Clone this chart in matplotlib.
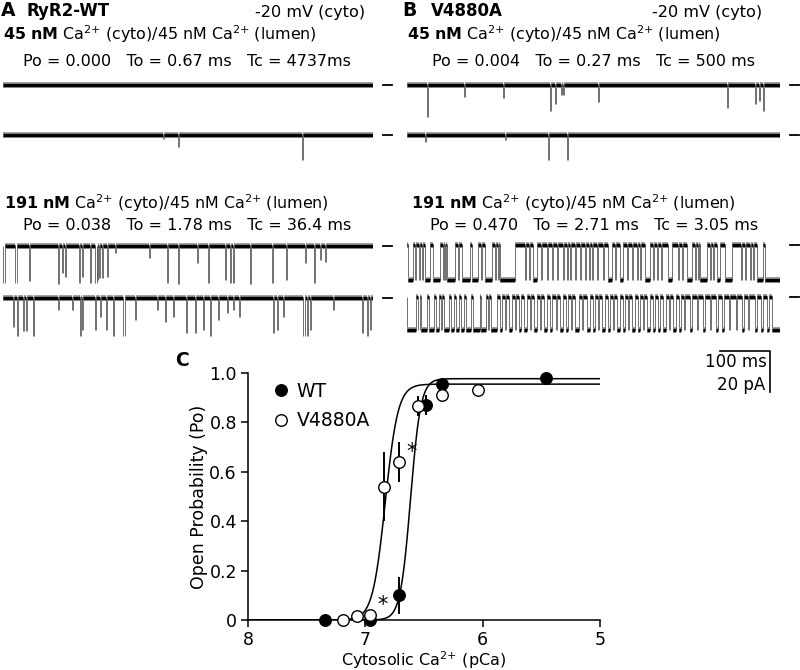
import numpy as np
import matplotlib
matplotlib.use("Agg")
import matplotlib.pyplot as plt

plt.rcParams['font.family'] = ['DejaVu Sans']
plt.rcParams['mathtext.default'] = 'regular'

# ---- single channel recordings: brief openings as (start ms, duration ms, amplitude pA)
wt_45_1 = []
wt_45_2 = [(320, 1, 1.8), (350, 1, 6.2), (598, 1, 12.3)]
v_45_1 = [(40, 1, 15.8), (114, 1, 6.2), (192, 1, 6.5), (286, 1, 13), (296, 1, 9.6),
          (308, 1, 5.2), (312, 1, 5.2), (382, 1, 8.7), (640, 1, 11.4), (696, 1, 9.6),
          (704, 1, 7.8), (712, 1, 13)]
v_45_2 = [(36, 1, 3.5), (196, 1, 2.6), (282, 1, 12.3), (320, 1, 12.3)]

wt_191_1 = [(0, 3, 18.5), (24, 3, 18.5), (52, 1, 17.5), (110, 2, 19), (118, 1, 13.7),
            (124, 1, 15.3), (152, 2, 18.5), (158, 1, 15.3), (174, 2, 18.5), (184, 3, 18.5),
            (188, 1, 17), (192, 1, 16), (198, 1, 16), (208, 1, 15.3), (224, 1, 3.5),
            (292, 1, 6.2), (328, 1, 18.5), (350, 2, 19), (388, 1, 8.7), (410, 1, 18.5),
            (444, 2, 17), (454, 2, 18.5), (460, 1, 18.5), (494, 2, 19), (538, 1, 18.5),
            (566, 1, 17), (604, 1, 8.7), (622, 1, 18.5), (634, 1, 7), (644, 1, 7.8)]
wt_191_2 = [(20, 1, 14.3), (28, 2, 19.2), (40, 1, 16.6), (46, 1, 16.6), (60, 2, 19.2),
            (110, 1, 6.2), (138, 1, 6.2), (154, 2, 19.2), (158, 1, 15.8), (184, 1, 15.8),
            (194, 1, 9.6), (206, 1, 15.8), (220, 1, 19.2), (240, 3, 19.2), (264, 1, 11),
            (308, 1, 6.2), (324, 1, 11.8), (340, 1, 9.4), (366, 1, 17.5), (384, 1, 17.5),
            (400, 1, 15.8), (414, 1, 19.2), (430, 1, 11), (448, 1, 7.7), (460, 1, 6.2),
            (472, 1, 9.4), (540, 1, 17.5), (548, 1, 15.8), (560, 1, 9.4), (600, 3, 19.2),
            (608, 2, 19.2), (614, 1, 15.8), (660, 1, 6.2), (718, 1, 17.5), (728, 2, 19.2),
            (734, 1, 15.8)]

# V4880A at 191 nM: open intervals (start ms, end ms) at unitary amplitude
v_191_1_open = [(2, 12), (16, 18), (24, 26), (30, 32), (36, 46), (52, 66), (72, 74), (76, 78),
                (80, 96), (102, 104), (110, 126), (130, 142), (148, 150), (156, 170),
                (176, 178), (182, 184), (186, 216), (236, 238), (244, 246), (252, 260),
                (268, 270), (280, 282), (290, 292), (300, 302), (312, 314), (320, 322),
                (326, 328), (336, 338), (346, 348), (356, 358), (364, 366), (370, 372),
                (380, 382), (392, 394), (402, 410), (416, 418), (426, 432), (440, 442),
                (450, 452), (460, 462), (466, 468), (476, 486), (492, 494), (500, 502),
                (508, 510), (522, 530), (542, 544), (550, 552), (560, 570), (576, 578),
                (582, 584), (586, 600), (606, 608), (612, 614), (620, 626), (636, 650),
                (668, 670), (676, 678), (686, 688), (692, 694), (700, 712), (716, 746)]
v_191_2_open = [(0, 18), (22, 25), (28, 40), (44, 54), (58, 64), (68, 70), (74, 84), (88, 94),
                (98, 104), (108, 114), (118, 128), (132, 146), (148, 158), (162, 164),
                (168, 180), (186, 190), (196, 198), (204, 210), (216, 218), (224, 228),
                (234, 240), (246, 248), (254, 260), (266, 268), (274, 280), (286, 290),
                (298, 300), (306, 312), (318, 322), (328, 330), (336, 344), (350, 352),
                (360, 366), (372, 376), (382, 384), (390, 396), (402, 406), (412, 414),
                (420, 426), (432, 436), (442, 444), (450, 456), (462, 466), (472, 474),
                (480, 486), (492, 496), (502, 506), (512, 518), (524, 526), (532, 538),
                (544, 548), (554, 556), (566, 570), (580, 582), (592, 596), (606, 608),
                (618, 622), (630, 634), (644, 646), (658, 660), (670, 674), (682, 684),
                (696, 700), (708, 712), (720, 724), (730, 746)]
v_191_1_amp = 17.5
v_191_2_amp = 16.5

# ---- Po vs cytosolic Ca2+ (panel C)
wt_pca = [7.34, 6.96, 6.715, 6.48, 6.35, 5.46]
wt_po = [0.0, 0.0, 0.10, 0.87, 0.955, 0.98]
wt_err = [0.0, 0.0, 0.075, 0.04, 0.0, 0.0]
v_pca = [7.19, 7.075, 6.96, 6.84, 6.71, 6.55, 6.35, 6.04]
v_po = [0.0, 0.015, 0.02, 0.54, 0.64, 0.865, 0.91, 0.93]
v_err = [0.0, 0.0, 0.0, 0.14, 0.08, 0.04, 0.0, 0.0]
v_star = [6.96, 6.71]
# Hill fit parameters (top, pEC50, Hill coefficient)
wt_fit = (0.977, 6.615, 10.0)
v_fit = (0.955, 6.83, 8.0)

W, H = 800, 670
PX_PER_PA = 2.0
fig = plt.figure(figsize=(8, 6.7), dpi=100)


def box(x0, y0, x1, y1):
    return [x0 / W, 1 - y1 / H, (x1 - x0) / W, (y1 - y0) / H]


def draw_trace(ax, events, t_end):
    t = 0.0
    fx0, fx1, fy = [], [], []
    ex, elo = [], []
    for start, dur, amp in sorted(events):
        if start > t:
            fx0.append(t); fx1.append(start); fy.append(0)
        ex += [start, start + dur]
        elo += [-amp, -amp]
        if dur >= 4:
            fx0.append(start); fx1.append(start + dur); fy.append(-amp)
        t = start + dur
    if t < t_end:
        fx0.append(t); fx1.append(t_end); fy.append(0)
    if ex:
        ax.vlines(ex, elo, 0, color='0.35', lw=0.6)
    # fuzzy noise band under the dark core
    ax.hlines(fy, fx0, fx1, color='0.6', lw=4.2)
    ax.hlines(fy, fx0, fx1, color='black', lw=2.4)


def trace_axes(x0, x1, base_y, t_end, events):
    ax = fig.add_axes(box(x0, base_y - 8, x1, base_y + 44))
    ax.set_xlim(0, t_end)
    ax.set_ylim(-44 / PX_PER_PA, 8 / PX_PER_PA)
    ax.axis('off')
    draw_trace(ax, events, t_end)
    ax.plot([t_end + 20, t_end + 38], [0, 0], color='black', lw=1.3, clip_on=False)
    return ax


T_A, T_B = 740, 746
trace_axes(3, 373, 85, T_A, wt_45_1)
trace_axes(3, 373, 135, T_A, wt_45_2)
trace_axes(407, 780, 85, T_B, v_45_1)
trace_axes(407, 780, 135, T_B, v_45_2)
trace_axes(3, 373, 246, T_A, wt_191_1)
trace_axes(3, 373, 298, T_A, wt_191_2)
trace_axes(407, 780, 245, T_B, [(s, e - s, v_191_1_amp) for s, e in v_191_1_open])
ax_b4 = trace_axes(407, 780, 297, T_B, [(s, e - s, v_191_2_amp) for s, e in v_191_2_open])

# scale bar (100 ms, 20 pA)
ax_b4.plot([626, 726, 726], [-27, -27, -47.5], color='black', lw=1.2, clip_on=False)
ax_b4.text(720, -32.5, '100 ms', ha='right', va='center', fontsize=12)
ax_b4.text(716, -44, '20 pA', ha='right', va='center', fontsize=12)


def ftext(x, y, s, **kw):
    fig.text(x / W, 1 - y / H, s, va='center', **kw)


CA_A = r'$\mathbf{45\ nM}$ Ca$^{2{+}}$ (cyto)/45 nM Ca$^{2{+}}$ (lumen)'
CA_B = r'$\mathbf{191\ nM}$ Ca$^{2{+}}$ (cyto)/45 nM Ca$^{2{+}}$ (lumen)'
ftext(1, 11, 'A', fontsize=13.5, fontweight='bold')
ftext(27, 11, 'RyR2-WT', fontsize=12, fontweight='bold')
ftext(402, 11, 'B', fontsize=13.5, fontweight='bold')
ftext(431, 11, 'V4880A', fontsize=12, fontweight='bold')
ftext(255, 12, '-20 mV (cyto)', fontsize=11.6)
ftext(652, 12, '-20 mV (cyto)', fontsize=11.6)
ftext(3, 34, CA_A, fontsize=11.4)
ftext(407, 34, CA_A, fontsize=11.4)
ftext(23, 62, 'Po = 0.000   To = 0.67 ms   Tc = 4737ms', fontsize=11.5)
ftext(432, 62, 'Po = 0.004   To = 0.27 ms   Tc = 500 ms', fontsize=11.5)
ftext(4, 203, CA_B, fontsize=11.4)
ftext(411, 203, CA_B, fontsize=11.4)
ftext(23, 226, 'Po = 0.038   To = 1.78 ms   Tc = 36.4 ms', fontsize=11.5)
ftext(430, 226, 'Po = 0.470   To = 2.71 ms   Tc = 3.05 ms', fontsize=11.5)
ftext(175, 360, 'C', fontsize=13.5, fontweight='bold')

# ---- panel C
axc = fig.add_axes(box(248, 373, 600, 620))
pca_grid = np.linspace(8, 5, 600)


def hill(p, top, pec50, n):
    return top / (1 + 10 ** (n * (p - pec50)))


axc.plot(pca_grid, hill(pca_grid, *wt_fit), color='black', lw=1.1)
axc.plot(pca_grid, hill(pca_grid, *v_fit), color='black', lw=1.1)
axc.errorbar(wt_pca, wt_po, yerr=wt_err, fmt='none', ecolor='black', elinewidth=1.4,
             capsize=0, zorder=3)
axc.errorbar(v_pca, v_po, yerr=v_err, fmt='none', ecolor='black', elinewidth=1.4,
             capsize=0, zorder=3)
axc.plot(wt_pca, wt_po, 'o', ms=8.3, mfc='black', mec='black', mew=1.0, clip_on=False,
         zorder=4, label='WT')
axc.plot(v_pca, v_po, 'o', ms=8.3, mfc='white', mec='black', mew=1.0, clip_on=False,
         zorder=5, label='V4880A')
for p in v_star:
    axc.annotate('*', (p, v_po[v_pca.index(p)]), xytext=(5, 0), textcoords='offset points',
                 fontsize=15, ha='left', va='bottom')

axc.set_xlim(8, 5)
axc.set_ylim(0, 1)
axc.set_xticks([8, 7, 6, 5])
axc.set_xticklabels(['8', '7', '6', '5'])
axc.set_yticks([0, 0.2, 0.4, 0.6, 0.8, 1.0])
axc.set_yticklabels(['0', '0.2', '0.4', '0.6', '0.8', '1.0'])
axc.tick_params(direction='out', length=5, width=1.1, labelsize=12.5, pad=3)
for s in ['top', 'right']:
    axc.spines[s].set_visible(False)
for s in ['left', 'bottom']:
    axc.spines[s].set_linewidth(1.1)
axc.set_ylabel('Open Probability (Po)', fontsize=12.5)
axc.set_xlabel('Cytosolic Ca$^{2{+}}$ (pCa)', fontsize=11.5)
axc.yaxis.set_label_coords(-0.115, 0.5)
axc.xaxis.set_label_coords(0.5, -0.118)
axc.legend(loc='upper left', bbox_to_anchor=(0.04, 1.01), frameon=False, fontsize=13.5,
           handlelength=0.8, handletextpad=0.45, labelspacing=0.55, borderaxespad=0.2)

fig.savefig('out.png', dpi=100)
